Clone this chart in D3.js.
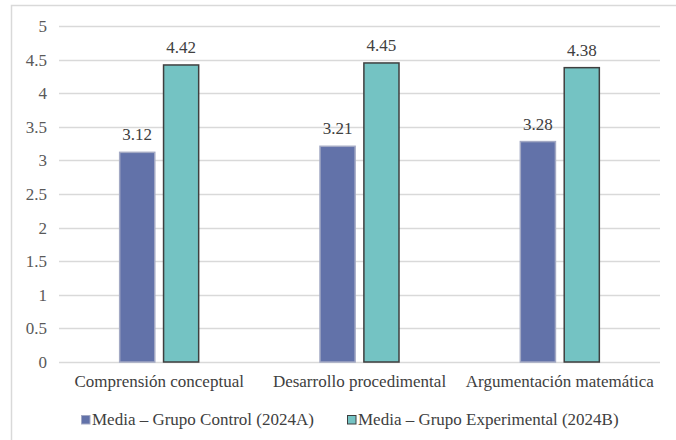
<!DOCTYPE html>
<html>
<head>
<meta charset="utf-8">
<script src="https://cdn.jsdelivr.net/npm/d3@7"></script>
<style>
body { margin: 0; background: #fff; }
svg { display: block; }
svg text { font-family: "Liberation Serif", "DejaVu Serif", serif; }
</style>
</head>
<body>
<script>
var categories = ["Comprensión conceptual", "Desarrollo procedimental", "Argumentación matemática"];
var seriesNames = ["Media – Grupo Control (2024A)", "Media – Grupo Experimental (2024B)"];
var controlValues = [3.12, 3.21, 3.28];
var experimentalValues = [4.42, 4.45, 4.38];
var yTicks = [0, 0.5, 1, 1.5, 2, 2.5, 3, 3.5, 4, 4.5, 5];

var W = 676, H = 440;
var fillColors = ["#6272a9", "#74c3c3"];
var strokeColors = ["#a3a9c4", "#3f3f3f"];
var font = "Liberation Serif, DejaVu Serif, serif";

var svg = d3.select("body").append("svg")
	.attr("width", W)
	.attr("height", H);

// chart area frame (only left and top edges are visible)
svg.append("path")
	.attr("d", "M11.5," + H + "V5.5H" + W)
	.attr("fill", "none")
	.attr("stroke", "#d9d9d9")
	.attr("stroke-width", 1.5);

var x0 = d3.scaleBand().domain(categories).range([59, 660]);
var x1 = d3.scaleBand().domain([0, 1]).range([-39.5, 39.5]).paddingInner(0.2);
var y = d3.scaleLinear().domain([0, 5]).range([362, 26]);

// gridlines
svg.append("g").selectAll("line")
	.data(yTicks)
	.enter().append("line")
	.attr("x1", 59).attr("x2", 660)
	.attr("y1", function (d) { return Math.round(y(d)) + 0.5; })
	.attr("y2", function (d) { return Math.round(y(d)) + 0.5; })
	.attr("stroke", "#d9d9d9")
	.attr("stroke-width", 1.5);

// y axis labels
var yAxis = d3.axisLeft(y).tickValues(yTicks).tickSize(0).tickPadding(0)
	.tickFormat(function (d) { return String(d); });
var gy = svg.append("g").attr("transform", "translate(47,0)").call(yAxis);
gy.attr("font-family", null);
gy.select(".domain").remove();
gy.selectAll("text")
	.style("font-family", font)
	.style("font-size", "17px")
	.attr("fill", "#595959");

var data = [];
categories.forEach(function (c, i) {
	data.push({ cat: c, s: 0, v: controlValues[i] });
	data.push({ cat: c, s: 1, v: experimentalValues[i] });
});

function barX(d) {
	return x0(d.cat) + x0.bandwidth() / 2 + x1(d.s);
}

svg.append("g").selectAll("rect")
	.data(data)
	.enter().append("rect")
	.attr("x", barX)
	.attr("y", function (d) { return y(d.v); })
	.attr("width", x1.bandwidth())
	.attr("height", function (d) { return y(0) - y(d.v); })
	.attr("fill", function (d) { return fillColors[d.s]; })
	.attr("stroke", function (d) { return strokeColors[d.s]; })
	.attr("stroke-width", 1.5);

// value labels
svg.append("g").selectAll("text")
	.data(data)
	.enter().append("text")
	.attr("x", function (d) { return barX(d) + x1.bandwidth() / 2; })
	.attr("y", function (d) { return y(d.v) - 12; })
	.attr("text-anchor", "middle")
	.style("font-family", font)
	.style("font-size", "17px")
	.attr("fill", "#404040")
	.text(function (d) { return d.v.toFixed(2); });

// category axis
var xAxis = d3.axisBottom(x0).tickSize(0).tickPadding(0);
var gx = svg.append("g").attr("transform", "translate(0,375)").call(xAxis);
gx.attr("font-family", null);
gx.select(".domain").remove();
gx.selectAll("text")
	.style("font-family", font)
	.style("font-size", "17px")
	.attr("fill", "#404040");

// legend
var legendX = [81, 347];
var leg = svg.append("g").selectAll("g")
	.data(seriesNames)
	.enter().append("g")
	.attr("transform", function (d, i) { return "translate(" + legendX[i] + ",415)"; });
leg.append("rect")
	.attr("width", 8.5).attr("height", 8.5)
	.attr("x", 0.5).attr("y", 0.5)
	.attr("fill", function (d, i) { return fillColors[i]; })
	.attr("stroke", function (d, i) { return strokeColors[i]; })
	.attr("stroke-width", 1);
leg.append("text")
	.attr("x", 11)
	.attr("y", 10)
	.style("font-family", font)
	.style("font-size", "17px")
	.attr("fill", "#404040")
	.text(function (d) { return d; });
</script>
</body>
</html>
